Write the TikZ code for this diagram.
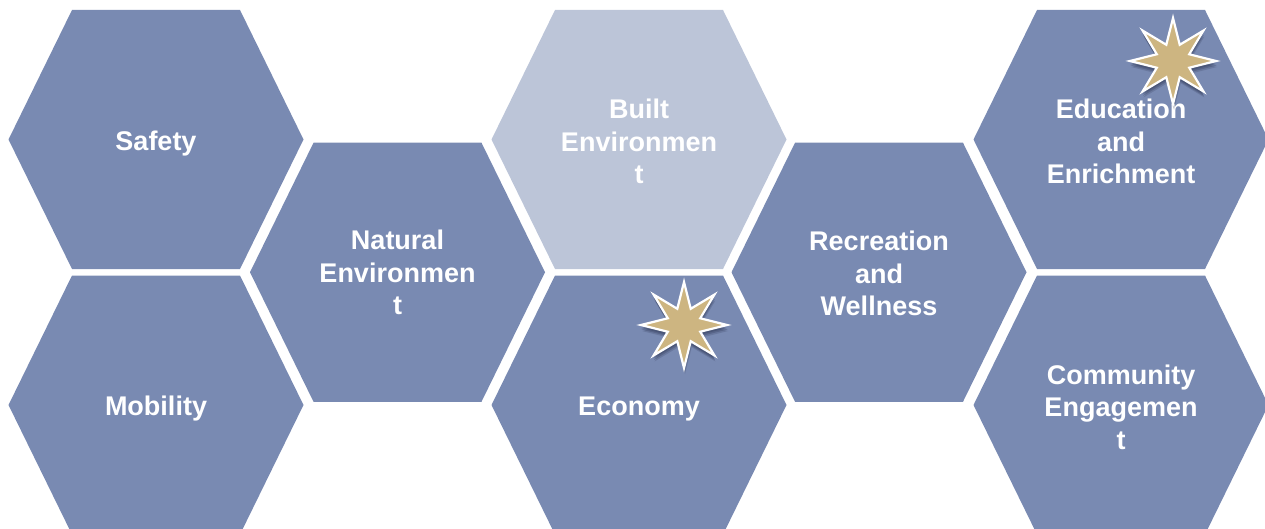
\documentclass[tikz,border=0pt]{standalone}
\usepackage{fontspec}
\setmainfont{Liberation Sans}
\usetikzlibrary{shapes.geometric}
\definecolor{hexblue}{RGB}{121,138,178}
\definecolor{hexlight}{RGB}{188,197,216}
\definecolor{startan}{RGB}{205,181,129}
\definecolor{starshadow}{RGB}{50,60,90}
\tikzset{
  celltext/.style={text=white, font=\bfseries\fontsize{27}{32.5}\selectfont, align=center, inner sep=0pt},
  starshape/.style={star, star points=8, star point ratio=2.45, minimum size=86, inner sep=0pt},
  starfill/.style={starshape, fill=startan, draw=white, line width=2.2},
  starshade/.style={starshape, fill=starshadow, draw=none},
}
\newcommand{\hexcell}[6]{%
  \begin{scope}[shift={(#2,#3)}]
    \fill[#4] (-147.5,0) -- (-84,-129.5) -- (84,-129.5) -- (147.5,0) -- (84,129.5) -- (-84,129.5) -- cycle;
    \node[celltext] (#1) at (0,#6) {#5};
  \end{scope}}
\newcommand{\goldstar}[3]{%
  \node[starshade, opacity=0.22] (#1s1) at (#2+1,#3+6) {};
  \node[starshade, opacity=0.3] (#1s2) at (#2+0.5,#3+4.5) {};
  \node[starshade, opacity=0.35] (#1s3) at (#2,#3+3) {};
  \node[starfill] (#1) at (#2,#3) {};}
\begin{document}
\begin{tikzpicture}[x=1pt,y=-1pt]
  \useasboundingbox (0,0) rectangle (1265,529);
  \clip (0,0) rectangle (1265,529);
  \hexcell{safety}{156}{139.5}{hexblue}{Safety}{4.5}
  \hexcell{mobility}{156}{405}{hexblue}{Mobility}{3.5}
  \hexcell{natural}{397.5}{272.25}{hexblue}{Natural\\Environmen\\t}{0.5}
  \hexcell{built}{639}{139.5}{hexlight}{Built\\Environmen\\t}{2}
  \hexcell{economy}{639}{405}{hexblue}{Economy}{4}
  \hexcell{recreation}{879}{272.25}{hexblue}{Recreation\\and\\Wellness}{1.5}
  \hexcell{education}{1121}{139.5}{hexblue}{Education\\and\\Enrichment}{2}
  \hexcell{community}{1121}{405}{hexblue}{Community\\Engagemen\\t}{2}
  \goldstar{stareco}{684}{325}
  \goldstar{staredu}{1173}{61}
\end{tikzpicture}
\end{document}
